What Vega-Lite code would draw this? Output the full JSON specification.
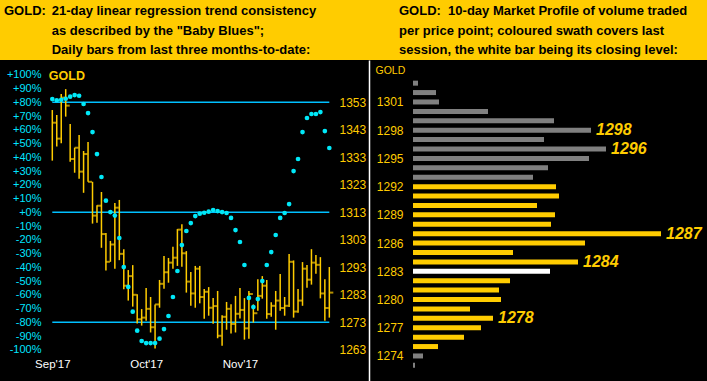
{
  "$schema": "https://vega.github.io/schema/vega-lite/v6.json",
  "background": "#FFCC00",
  "padding": {"left": 0, "right": 0, "top": 5, "bottom": 0},
  "bounds": "flush",
  "spacing": 0,
  "config": {
    "view": {"fill": "#000000", "stroke": null},
    "title": {"font": "Liberation Sans", "fontSize": 13, "fontWeight": "bold", "color": "#000000", "anchor": "start", "frame": "group", "lineHeight": 19.3, "baseline": "bottom", "offset": 3},
    "axis": {"grid": false, "domain": false, "ticks": false, "tickSize": 0, "labelFont": "Liberation Sans", "titleFont": "Liberation Sans", "labelOverlap": false}
  },
  "datasets": {
    "daily": [
      {"day": 0, "high": 1350.2, "low": 1331.8, "close": 1345.6, "blues": 82.4},
      {"day": 1, "high": 1348.4, "low": 1336.9, "close": 1339.8, "blues": 81.5},
      {"day": 2, "high": 1356.0, "low": 1338.1, "close": 1354.7, "blues": 81.9},
      {"day": 3, "high": 1357.8, "low": 1347.8, "close": 1351.8, "blues": 82.6},
      {"day": 4, "high": 1345.1, "low": 1331.4, "close": 1332.4, "blues": 84.1},
      {"day": 5, "high": 1336.5, "low": 1327.4, "close": 1336.5, "blues": 85.3},
      {"day": 6, "high": 1341.1, "low": 1325.2, "close": 1327.8, "blues": 84.8},
      {"day": 7, "high": 1335.3, "low": 1320.1, "close": 1334.2, "blues": 78.8},
      {"day": 8, "high": 1338.6, "low": 1324.1, "close": 1324.1, "blues": 72.2},
      {"day": 9, "high": 1324.1, "low": 1308.9, "close": 1311.8, "blues": 58.4},
      {"day": 10, "high": 1315.6, "low": 1309.2, "close": 1315.4, "blues": 42.4},
      {"day": 11, "high": 1320.4, "low": 1300.1, "close": 1305.1, "blues": 25.7},
      {"day": 12, "high": 1305.5, "low": 1291.8, "close": 1295.0, "blues": 8.5},
      {"day": 13, "high": 1302.6, "low": 1295.0, "close": 1301.3, "blues": 0.2},
      {"day": 14, "high": 1316.4, "low": 1292.5, "close": 1314.7, "blues": -2.4},
      {"day": 15, "high": 1317.5, "low": 1295.6, "close": 1297.9, "blues": -18.7},
      {"day": 16, "high": 1299.6, "low": 1285.0, "close": 1286.3, "blues": -39.8},
      {"day": 17, "high": 1292.0, "low": 1280.9, "close": 1289.8, "blues": -54.3},
      {"day": 18, "high": 1293.8, "low": 1278.7, "close": 1283.0, "blues": -72.3},
      {"day": 19, "high": 1283.2, "low": 1272.6, "close": 1274.1, "blues": -86.1},
      {"day": 20, "high": 1277.8, "low": 1271.8, "close": 1274.7, "blues": -93.6},
      {"day": 21, "high": 1285.5, "low": 1273.6, "close": 1277.9, "blues": -95.1},
      {"day": 22, "high": 1282.2, "low": 1269.3, "close": 1271.2, "blues": -95.1},
      {"day": 23, "high": 1279.5, "low": 1263.5, "close": 1279.5, "blues": -95.1},
      {"day": 24, "high": 1288.4, "low": 1278.3, "close": 1287.0, "blues": -91.9},
      {"day": 25, "high": 1297.1, "low": 1285.2, "close": 1291.2, "blues": -84.9},
      {"day": 26, "high": 1296.4, "low": 1287.4, "close": 1294.7, "blues": -75.4},
      {"day": 27, "high": 1300.5, "low": 1292.5, "close": 1296.5, "blues": -61.6},
      {"day": 28, "high": 1306.9, "low": 1293.5, "close": 1306.7, "blues": -42.7},
      {"day": 29, "high": 1308.7, "low": 1293.2, "close": 1298.1, "blues": -23.8},
      {"day": 30, "high": 1298.9, "low": 1283.8, "close": 1287.8, "blues": -13.6},
      {"day": 31, "high": 1291.3, "low": 1279.0, "close": 1283.5, "blues": -7.8},
      {"day": 32, "high": 1293.5, "low": 1278.3, "close": 1292.5, "blues": -2.7},
      {"day": 33, "high": 1293.5, "low": 1279.9, "close": 1282.2, "blues": -1.0},
      {"day": 34, "high": 1285.1, "low": 1274.3, "close": 1284.1, "blues": -0.3},
      {"day": 35, "high": 1285.8, "low": 1275.4, "close": 1278.3, "blues": 0.5},
      {"day": 36, "high": 1281.8, "low": 1272.5, "close": 1278.9, "blues": 1.7},
      {"day": 37, "high": 1284.4, "low": 1267.2, "close": 1268.1, "blues": 0.9},
      {"day": 38, "high": 1275.6, "low": 1264.5, "close": 1275.0, "blues": 0.2},
      {"day": 39, "high": 1280.4, "low": 1270.3, "close": 1277.9, "blues": -0.5},
      {"day": 40, "high": 1279.6, "low": 1268.9, "close": 1272.4, "blues": -4.1},
      {"day": 41, "high": 1282.6, "low": 1269.3, "close": 1276.1, "blues": -12.9},
      {"day": 42, "high": 1285.5, "low": 1274.4, "close": 1277.5, "blues": -21.6},
      {"day": 43, "high": 1281.8, "low": 1266.7, "close": 1270.8, "blues": -38.3},
      {"day": 44, "high": 1284.4, "low": 1267.0, "close": 1283.3, "blues": -62.3},
      {"day": 45, "high": 1279.5, "low": 1272.9, "close": 1276.3, "blues": -68.9},
      {"day": 46, "high": 1288.7, "low": 1277.2, "close": 1282.6, "blues": -63.1},
      {"day": 47, "high": 1289.8, "low": 1281.6, "close": 1286.3, "blues": -50.0},
      {"day": 48, "high": 1288.4, "low": 1274.3, "close": 1276.0, "blues": -38.3},
      {"day": 49, "high": 1280.3, "low": 1275.0, "close": 1279.0, "blues": -28.9},
      {"day": 50, "high": 1284.4, "low": 1270.3, "close": 1280.9, "blues": -16.5},
      {"day": 51, "high": 1290.6, "low": 1277.2, "close": 1278.2, "blues": -4.1},
      {"day": 52, "high": 1282.2, "low": 1275.4, "close": 1279.0, "blues": -0.5},
      {"day": 53, "high": 1297.8, "low": 1278.6, "close": 1295.0, "blues": 6.0},
      {"day": 54, "high": 1295.5, "low": 1274.7, "close": 1276.9, "blues": 30.0},
      {"day": 55, "high": 1285.1, "low": 1276.5, "close": 1280.9, "blues": 38.8},
      {"day": 56, "high": 1294.9, "low": 1279.0, "close": 1292.5, "blues": 58.4},
      {"day": 57, "high": 1293.8, "low": 1285.6, "close": 1288.5, "blues": 68.6},
      {"day": 58, "high": 1299.6, "low": 1286.7, "close": 1294.7, "blues": 71.5},
      {"day": 59, "high": 1297.5, "low": 1290.7, "close": 1293.9, "blues": 71.5},
      {"day": 60, "high": 1296.7, "low": 1281.7, "close": 1283.5, "blues": 72.9},
      {"day": 61, "high": 1288.7, "low": 1273.6, "close": 1278.2, "blues": 59.1},
      {"day": 62, "high": 1293.1, "low": 1274.7, "close": 1283.8, "blues": 46.8}
    ],
    "levels": [{"level": 80}, {"level": 0}, {"level": -80}],
    "profile": [
      {"price": 1303, "volume": 5, "kind": "prior", "tagged": false},
      {"price": 1302, "volume": 23, "kind": "prior", "tagged": false},
      {"price": 1301, "volume": 26, "kind": "prior", "tagged": false},
      {"price": 1300, "volume": 75, "kind": "prior", "tagged": false},
      {"price": 1299, "volume": 141, "kind": "prior", "tagged": false},
      {"price": 1298, "volume": 178, "kind": "prior", "tagged": true},
      {"price": 1297, "volume": 131, "kind": "prior", "tagged": false},
      {"price": 1296, "volume": 193, "kind": "prior", "tagged": true},
      {"price": 1295, "volume": 176, "kind": "prior", "tagged": false},
      {"price": 1294, "volume": 135, "kind": "prior", "tagged": false},
      {"price": 1293, "volume": 120, "kind": "prior", "tagged": false},
      {"price": 1292, "volume": 143, "kind": "session", "tagged": false},
      {"price": 1291, "volume": 146, "kind": "session", "tagged": false},
      {"price": 1290, "volume": 124, "kind": "session", "tagged": false},
      {"price": 1289, "volume": 142, "kind": "session", "tagged": false},
      {"price": 1288, "volume": 138, "kind": "session", "tagged": false},
      {"price": 1287, "volume": 248, "kind": "session", "tagged": true},
      {"price": 1286, "volume": 172, "kind": "session", "tagged": false},
      {"price": 1285, "volume": 100, "kind": "session", "tagged": false},
      {"price": 1284, "volume": 165, "kind": "session", "tagged": true},
      {"price": 1283, "volume": 137, "kind": "close", "tagged": false},
      {"price": 1282, "volume": 97, "kind": "session", "tagged": false},
      {"price": 1281, "volume": 86, "kind": "session", "tagged": false},
      {"price": 1280, "volume": 88, "kind": "session", "tagged": false},
      {"price": 1279, "volume": 57, "kind": "session", "tagged": false},
      {"price": 1278, "volume": 80, "kind": "session", "tagged": true},
      {"price": 1277, "volume": 68, "kind": "session", "tagged": false},
      {"price": 1276, "volume": 51, "kind": "session", "tagged": false},
      {"price": 1275, "volume": 25, "kind": "session", "tagged": false},
      {"price": 1274, "volume": 10, "kind": "prior", "tagged": false},
      {"price": 1273, "volume": 2, "kind": "prior", "tagged": false}
    ]
  },
  "hconcat": [
    {
      "width": 50,
      "height": 321,
      "title": {"text": "GOLD:", "dx": 4, "dy": -38.6},
      "data": {"name": "daily"},
      "mark": {"type": "point", "opacity": 0},
      "encoding": {
        "y": {"field": "blues", "type": "quantitative", "scale": {"domain": [-122.7, 110.8], "nice": false}, "axis": null}
      }
    },
    {
      "width": 319,
      "height": 321,
      "title": {"text": ["21-day linear regression trend consistency", "as described by the \"Baby Blues\";", "Daily bars from last three months-to-date:"], "dx": 1.7},
      "resolve": {"scale": {"y": "independent"}},
      "layer": [
        {
          "data": {"name": "levels"},
          "mark": {"type": "rule", "color": "#00BFFF", "strokeWidth": 1.5},
          "encoding": {
            "x": {"datum": 0, "type": "quantitative", "scale": {"domain": [-0.515, 70.88], "nice": false, "zero": false}},
            "x2": {"datum": 62},
            "y": {"field": "level", "type": "quantitative", "scale": {"domain": [-122.7, 110.8], "nice": false, "zero": false},
              "axis": {"orient": "left", "offset": 0, "labelPadding": 9, "labelOverlap": false, "values": [-100, -90, -80, -70, -60, -50, -40, -30, -20, -10, 0, 10, 20, 30, 40, 50, 60, 70, 80, 90, 100],
                "labelExpr": "(datum.value >= 0 ? '+' : '') + datum.value + '%'", "labelColor": "#00E5FF", "labelFontSize": 11, "labelBaseline": "middle",
                "title": "GOLD", "titleX": -1.7, "titleY": 15, "titleAngle": 0, "titleAlign": "left", "titleBaseline": "middle", "titleColor": "#FFCC00", "titleFontSize": 12.5, "titleFontWeight": "bold"}}
          }
        },
        {
          "data": {"name": "daily"},
          "mark": {"type": "rule", "color": "#FFCC00", "strokeWidth": 1.5},
          "encoding": {
            "x": {"field": "day", "type": "quantitative", "scale": {"domain": [-0.515, 70.88], "nice": false, "zero": false},
              "axis": {"orient": "bottom", "offset": -23, "labelPadding": 0, "labelOverlap": false, "values": [0, 21, 42], "labelExpr": "datum.value == 0 ? \"Sep'17\" : datum.value == 21 ? \"Oct'17\" : \"Nov'17\"", "labelColor": "#FFFFFF", "labelFontSize": 11.5, "title": null}},
            "y": {"field": "low", "type": "quantitative", "scale": {"domain": [1251.65, 1368.4], "nice": false, "zero": false},
              "axis": {"orient": "right", "offset": -30, "labelPadding": 0, "labelAlign": "left", "labelOverlap": false, "format": "d", "values": [1263, 1273, 1283, 1293, 1303, 1313, 1323, 1333, 1343, 1353], "labelColor": "#FFCC00", "labelFontSize": 12, "labelBaseline": "middle", "title": null}},
            "y2": {"field": "high"}
          }
        },
        {
          "data": {"name": "daily"},
          "mark": {"type": "tick", "orient": "horizontal", "color": "#FFCC00", "size": 4, "thickness": 2, "xOffset": 2},
          "encoding": {
            "x": {"field": "day", "type": "quantitative"},
            "y": {"field": "close", "type": "quantitative", "scale": {"domain": [1251.65, 1368.4], "nice": false, "zero": false}, "axis": null}
          }
        },
        {
          "data": {"name": "daily"},
          "mark": {"type": "circle", "color": "#00E8F8", "size": 22, "opacity": 1},
          "encoding": {
            "x": {"field": "day", "type": "quantitative"},
            "y": {"field": "blues", "type": "quantitative", "scale": {"domain": [-122.7, 110.8], "nice": false, "zero": false}, "axis": null}
          }
        }
      ]
    },
    {
      "width": 338,
      "height": 321,
      "title": {"text": ["GOLD:\u00a0 10-day Market Profile of volume traded", "per price point; coloured swath covers last", "session, the white bar being its closing level:"], "dx": 30},
      "data": {"name": "profile"},
      "resolve": {"axis": {"y": "independent"}},
      "layer": [
        {
          "mark": {"type": "bar", "orient": "horizontal", "size": 5},
          "encoding": {
            "y": {"field": "price", "type": "quantitative", "scale": {"domain": [1271.87, 1304.93], "nice": false, "zero": false},
              "axis": {"orient": "left", "domain": true, "domainColor": "#FFFFFF", "domainWidth": 1.5, "labels": false, "values": [1290],
                "title": "GOLD", "titleX": 6, "titleY": 10, "titleAngle": 0, "titleAlign": "left", "titleBaseline": "middle", "titleColor": "#FFCC00", "titleFontSize": 10.5, "titleFontWeight": "normal"}},
            "x": {"field": "volume", "type": "quantitative", "stack": null, "scale": {"domain": [-44, 294], "nice": false}, "axis": null},
            "color": {"field": "kind", "type": "nominal", "scale": {"domain": ["prior", "session", "close"], "range": ["#808080", "#FFCC00", "#FFFFFF"]}, "legend": null}
          }
        },
        {
          "transform": [{"filter": "datum.tagged"}],
          "mark": {"type": "text", "align": "left", "dx": 5, "baseline": "middle", "font": "Liberation Sans", "fontSize": 16, "fontStyle": "italic", "fontWeight": "bold", "color": "#FFCC00"},
          "encoding": {
            "y": {"field": "price", "type": "quantitative",
              "axis": {"orient": "left", "offset": -34, "labelPadding": 0, "labelAlign": "right", "labelBaseline": "middle", "format": "d", "labelOverlap": false,
                "values": [1301, 1298, 1295, 1292, 1289, 1286, 1283, 1280, 1277, 1274], "labelColor": "#FFCC00", "labelFontSize": 12, "title": null}},
            "x": {"field": "volume", "type": "quantitative"},
            "text": {"field": "price", "type": "quantitative", "format": "d"}
          }
        }
      ]
    }
  ]
}
